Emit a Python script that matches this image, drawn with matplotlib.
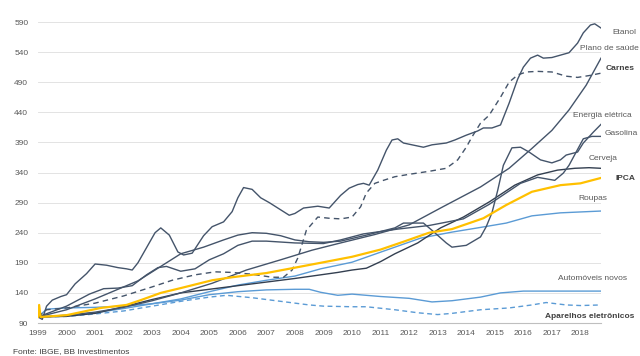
import matplotlib
matplotlib.use("Agg")
import matplotlib.pyplot as plt

plt.rcParams['font.family'] = ['Liberation Sans', 'DejaVu Sans']

# ---------------- data (index, base 1999 = 100) ----------------
etanol_x = [1999.0, 1999.15, 1999.3, 1999.5, 1999.8, 2000.0, 2000.3, 2000.7, 2001.0, 2001.4, 2001.8,
            2002.1, 2002.3, 2002.5, 2002.8, 2003.1, 2003.3, 2003.6, 2003.9, 2004.1, 2004.4, 2004.8,
            2005.1, 2005.5, 2005.8, 2006.0, 2006.2, 2006.5, 2006.8, 2007.1, 2007.4, 2007.8, 2008.0,
            2008.3, 2008.8, 2009.2, 2009.6, 2009.9, 2010.2, 2010.4, 2010.6, 2010.9, 2011.2, 2011.4,
            2011.6, 2011.8, 2012.1, 2012.5, 2012.8, 2013.3, 2013.6, 2014.0, 2014.4, 2014.6, 2014.9,
            2015.2, 2015.5, 2015.8, 2016.0, 2016.25, 2016.5, 2016.7, 2017.0, 2017.3, 2017.6, 2017.9,
            2018.1, 2018.35, 2018.5, 2018.72]
etanol_y = [100, 96, 118, 128, 134, 137, 155, 172, 188, 186, 182,
            180, 178, 190, 215, 240, 248, 236, 208, 203, 206, 235,
            250, 258, 275, 298, 315, 312, 298, 290, 281, 269, 272,
            281, 284, 281, 302, 314, 320, 322, 319, 344, 377, 394,
            396, 389, 386, 382, 386, 389, 394, 402, 409, 414, 414,
            419, 455, 495, 515, 530, 535, 530, 531, 535, 539, 555,
            572, 585, 587, 580]

plano_x = [1999.0, 2000.0, 2001.0, 2002.0, 2003.0, 2004.0, 2005.1, 2006.3, 2007.5, 2008.6, 2009.6,
           2010.8, 2012.0, 2013.1, 2014.5, 2015.5, 2016.3, 2017.0, 2017.6, 2018.2, 2018.72]
plano_y = [100, 103, 108, 116, 127, 140, 156, 178, 195, 211, 223,
           237, 253, 281, 316, 347, 380, 410, 444, 485, 530]

carnes_x = [1999.0, 1999.3, 2000.0, 2001.0, 2002.0, 2003.0, 2003.7, 2004.5, 2005.2, 2005.8, 2006.5,
            2007.2, 2007.6, 2007.9, 2008.1, 2008.4, 2008.8, 2009.2, 2009.6, 2010.0, 2010.3, 2010.5,
            2010.8, 2011.1, 2011.5, 2012.0, 2012.7, 2013.3, 2013.7, 2014.0, 2014.2, 2014.5, 2014.8,
            2015.2, 2015.5, 2015.8, 2016.1, 2016.5, 2017.0, 2017.5, 2017.9, 2018.3, 2018.72]
carnes_y = [100, 112, 115, 123, 135, 150, 161, 170, 175, 174, 171,
            166, 166, 178, 198, 244, 266, 264, 263, 266, 283, 306,
            322, 327, 333, 337, 342, 347, 361, 382, 399, 422, 435,
            465, 490, 502, 507, 508, 507, 500, 498, 501, 505]

energia_x = [1999.0, 2000.0, 2001.0, 2001.5, 2002.0, 2002.5, 2003.0, 2003.6, 2004.0, 2004.8, 2005.5,
             2006.0, 2006.5, 2007.0, 2007.5, 2008.0, 2008.5, 2009.0, 2009.6, 2010.5, 2011.5, 2011.8,
             2012.5, 2012.8, 2013.3, 2013.5, 2014.0, 2014.5, 2014.7, 2014.9, 2015.1, 2015.3, 2015.6,
             2015.9, 2016.2, 2016.6, 2017.0, 2017.3, 2017.5, 2017.9, 2018.1, 2018.45, 2018.72]
energia_y = [100, 112, 130, 140, 150, 160, 175, 193, 205, 216, 228,
             236, 240, 239, 235, 228, 225, 224, 226, 236, 248, 256,
             256, 244, 223, 216, 219, 233, 250, 273, 310, 352, 381,
             382, 374, 361, 356, 361, 369, 374, 389, 407, 420]

gasolina_x = [1999.0, 2000.0, 2000.8, 2001.3, 2001.8, 2002.3, 2002.8, 2003.2, 2003.5, 2004.0, 2004.5,
              2005.0, 2005.5, 2006.0, 2006.5, 2007.0, 2008.0, 2009.0, 2009.6, 2010.4, 2011.6, 2012.7,
              2013.9, 2014.8, 2015.9, 2016.5, 2017.1, 2017.4, 2017.6, 2017.85, 2018.1, 2018.4, 2018.72]
gasolina_y = [100, 118, 138, 147, 148, 152, 170, 182, 184, 176, 180,
              195, 205, 219, 226, 226, 223, 222, 228, 238, 246, 252,
              263, 287, 322, 332, 327, 339, 352, 374, 396, 400, 400]

cerveja_x = [1999.0, 2000.0, 2001.0, 2002.0, 2003.0, 2004.0, 2005.0, 2006.0, 2007.0, 2008.0, 2008.9,
             2009.5, 2010.0, 2010.5, 2011.0, 2011.5, 2012.3, 2013.1, 2013.9, 2014.8, 2015.7, 2016.5,
             2017.2, 2017.8, 2018.3, 2018.72]
cerveja_y = [100, 101, 106, 117, 129, 140, 146, 152, 158, 164, 170,
             174, 178, 181, 192, 205, 223, 248, 266, 291, 319, 336,
             344, 347, 348, 347]

ipca_x = [1999.0, 1999.04, 1999.09, 2000.0, 2001.2, 2002.1, 2002.6, 2003.3, 2004.0, 2005.1, 2005.8,
          2007.0, 2007.9, 2008.9, 2010.0, 2011.0, 2011.8, 2012.7, 2013.5, 2014.6, 2015.4, 2016.3,
          2017.3, 2018.0, 2018.72]
ipca_y = [100, 120, 100, 103, 115, 120, 128, 140, 148, 161, 166,
          173, 181, 190, 200, 212, 225, 240, 246, 264, 286, 308,
          319, 322, 331]

roupas_x = [1999.0, 2000.0, 2001.0, 2002.0, 2003.0, 2004.0, 2005.0, 2006.0, 2007.0, 2008.0, 2008.9,
            2010.0, 2011.2, 2012.4, 2013.5, 2014.4, 2015.4, 2016.3, 2017.3, 2018.72]
roupas_y = [100, 102, 107, 114, 122, 130, 142, 153, 161, 168, 180,
            191, 211, 231, 241, 248, 256, 268, 273, 276]

auto_x = [1999.0, 1999.3, 2000.0, 2001.0, 2002.0, 2003.0, 2004.0, 2005.0, 2006.0, 2007.0, 2008.0,
          2008.5, 2008.9, 2009.5, 2010.0, 2011.0, 2012.0, 2012.8, 2013.5, 2014.5, 2015.2, 2016.0,
          2017.0, 2018.72]
auto_y = [100, 113, 115, 116, 118, 122, 128, 137, 142, 145, 146,
          146, 141, 136, 138, 134, 131, 125, 127, 133, 140, 143,
          143, 143]

aparelhos_x = [1999.0, 2000.0, 2001.0, 2002.0, 2003.0, 2004.0, 2005.0, 2005.6, 2006.5, 2007.5, 2008.5,
               2009.0, 2010.0, 2010.5, 2011.5, 2012.3, 2013.0, 2013.5, 2014.5, 2015.5, 2016.3, 2016.8,
               2017.5, 2018.0, 2018.72]
aparelhos_y = [100, 101, 105, 110, 118, 126, 133, 136, 132, 126, 120,
               118, 117, 117, 112, 107, 104, 106, 112, 115, 120, 124,
               120, 119, 120]

year_ticks = list(range(1999, 2019))
y_ticks = [90, 140, 190, 240, 290, 340, 390, 440, 490, 540, 590]

# ---------------- styling ----------------
DARK = '#44546A'
BLUE = '#5B9BD5'
GOLD = '#FFC000'
TXT = '#595959'

W, H = 640, 356
fig = plt.figure(figsize=(W / 100, H / 100), dpi=100)
ax = fig.add_axes([38 / W, 1 - 323 / H, (601 - 38) / W, (323 - 16) / H])

lw = 1.0
ax.plot(aparelhos_x, aparelhos_y, color=BLUE, lw=lw, ls=(0, (3.5, 2.5)))
ax.plot(auto_x, auto_y, color=BLUE, lw=lw)
ax.plot(roupas_x, roupas_y, color=BLUE, lw=lw)
ax.plot(cerveja_x, cerveja_y, color='#333F50', lw=lw)
ax.plot(gasolina_x, gasolina_y, color=DARK, lw=lw)
ax.plot(energia_x, energia_y, color=DARK, lw=lw)
ax.plot(plano_x, plano_y, color=DARK, lw=lw)
ax.plot(carnes_x, carnes_y, color=DARK, lw=lw, ls=(0, (4, 3)))
ax.plot(etanol_x, etanol_y, color=DARK, lw=lw)
ax.plot(ipca_x, ipca_y, color=GOLD, lw=1.6)

ax.set_xlim(1999.0, 2018.72)
ax.set_ylim(90, 600)
ax.set_yticks(y_ticks)
ax.set_xticks(year_ticks)
ax.set_xticklabels([str(y) for y in year_ticks])
ax.tick_params(axis='both', length=0, labelsize=6, colors=TXT)
ax.tick_params(axis='y', pad=7)
ax.tick_params(axis='x', pad=5)
for t in y_ticks[1:]:
    ax.axhline(t, color='#E3E3E3', lw=0.7, zorder=0)
for s in ['top', 'right', 'left']:
    ax.spines[s].set_visible(False)
ax.spines['bottom'].set_color('#BFBFBF')
ax.spines['bottom'].set_linewidth(0.8)

# series labels (pixel centers)
labels = [
    ('Etanol', 624, 33, 'normal'),
    ('Plano de saúde', 609, 48, 'normal'),
    ('Carnes', 620, 68, 'bold'),
    ('Energia elétrica', 602, 115, 'normal'),
    ('Gasolina', 621, 133, 'normal'),
    ('Cerveja', 603, 158, 'normal'),
    ('IPCA', 625, 178, 'bold'),
    ('Roupas', 593, 199, 'normal'),
    ('Automóveis novos', 593, 279, 'normal'),
    ('Aparelhos eletrônicos', 590, 316, 'bold'),
]
for txt, px, py, wt in labels:
    fig.text(px / W, 1 - py / H, txt, ha='center', va='center', fontsize=6,
             fontweight=wt, color='#404040' if wt == 'bold' else TXT)

fig.text(13 / W, 1 - 352 / H, 'Fonte: IBGE, BB Investimentos', ha='left', va='center',
         fontsize=6, color='#404040')

fig.savefig('out.png', dpi=100)
